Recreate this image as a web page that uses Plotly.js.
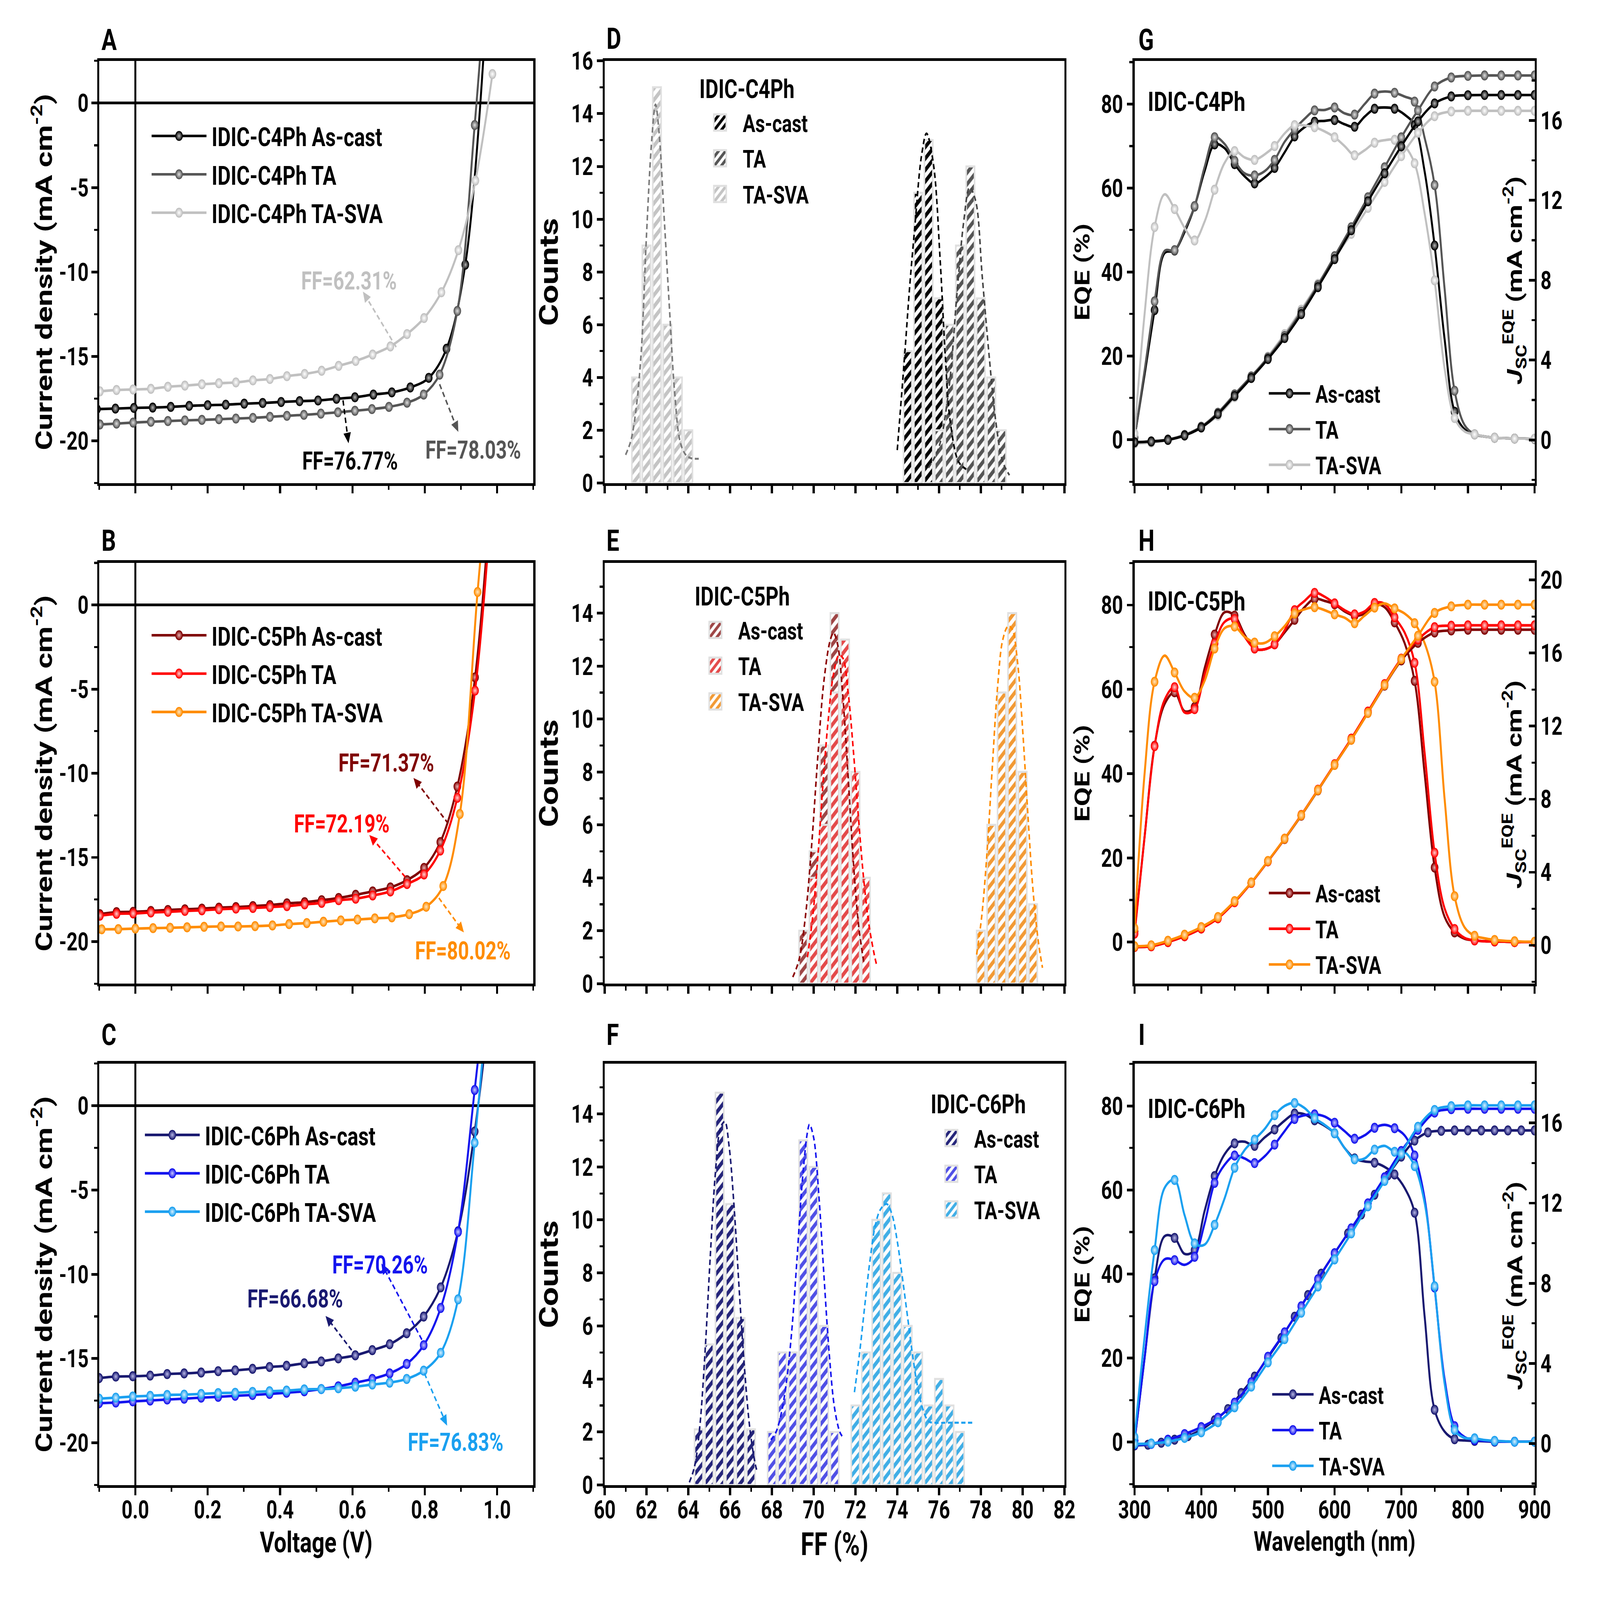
<!DOCTYPE html>
<html><head><meta charset="utf-8">
<script src="https://cdn.plot.ly/plotly-3.0.1.min.js"></script>
<style>
html,body{margin:0;padding:0;background:#fff;overflow:hidden;width:100vw;height:100vh}
#wrap{width:1546px;height:1182.25px;transform-origin:0 0}
</style></head>
<body><div id="wrap"><div id="chart"></div></div>
<script>
// ================= DATA =================
// Panel A (IDIC-C4Ph J-V)
const vA_asCast = [-0.106, -0.055, -0.004, 0.048, 0.098, 0.149, 0.200, 0.250, 0.301, 0.352, 0.403, 0.454, 0.505, 0.556, 0.607, 0.658, 0.709, 0.760, 0.811, 0.860, 0.912, 0.963];
const jA_asCast = [-18.12, -18.09, -18.05, -18.03, -17.99, -17.93, -17.89, -17.86, -17.80, -17.76, -17.70, -17.65, -17.61, -17.51, -17.42, -17.26, -17.13, -16.84, -16.27, -14.55, -9.57, 3.0];
const vA_ta = [-0.098, -0.052, -0.006, 0.043, 0.090, 0.137, 0.184, 0.231, 0.278, 0.325, 0.372, 0.419, 0.466, 0.513, 0.560, 0.607, 0.654, 0.701, 0.751, 0.797, 0.841, 0.890, 0.938, 0.985];
const jA_ta = [-19.03, -18.98, -18.92, -18.87, -18.83, -18.79, -18.76, -18.72, -18.68, -18.64, -18.58, -18.52, -18.46, -18.39, -18.31, -18.22, -18.12, -17.99, -17.74, -17.26, -16.08, -12.31, -1.30, 12.0];
const vA_taSva = [-0.098, -0.052, -0.006, 0.043, 0.090, 0.137, 0.184, 0.231, 0.278, 0.325, 0.372, 0.419, 0.468, 0.515, 0.562, 0.609, 0.656, 0.705, 0.751, 0.798, 0.846, 0.893, 0.940, 0.987];
const jA_taSva = [-17.07, -16.99, -16.96, -16.92, -16.80, -16.73, -16.65, -16.59, -16.54, -16.42, -16.34, -16.17, -16.04, -15.85, -15.56, -15.27, -14.89, -14.41, -13.68, -12.73, -11.20, -8.71, -4.59, 1.72];

// Panel B (IDIC-C5Ph J-V)
const vB = [-0.098, -0.052, -0.006, 0.043, 0.090, 0.137, 0.184, 0.231, 0.278, 0.325, 0.372, 0.419, 0.468, 0.515, 0.562, 0.609, 0.656, 0.705, 0.751, 0.798, 0.843, 0.890, 0.939, 0.987];
const jB_asCast = [-18.37, -18.25, -18.23, -18.18, -18.12, -18.08, -18.04, -17.98, -17.95, -17.89, -17.83, -17.73, -17.66, -17.54, -17.41, -17.22, -17.02, -16.78, -16.35, -15.62, -14.09, -10.79, -4.30, 8.0];
const jB_ta = [-18.46, -18.35, -18.33, -18.27, -18.23, -18.18, -18.14, -18.08, -18.04, -18.00, -17.95, -17.89, -17.79, -17.70, -17.54, -17.45, -17.26, -17.02, -16.58, -16.01, -14.59, -11.46, -5.09, 7.0];
const vB_taSva = [-0.093, -0.047, 0.000, 0.049, 0.096, 0.143, 0.190, 0.237, 0.284, 0.331, 0.379, 0.425, 0.474, 0.520, 0.568, 0.614, 0.662, 0.709, 0.757, 0.804, 0.851, 0.897, 0.946, 0.993];
const jB_taSva = [-19.27, -19.26, -19.23, -19.20, -19.18, -19.15, -19.12, -19.10, -19.10, -19.08, -19.04, -18.96, -18.90, -18.82, -18.74, -18.69, -18.62, -18.56, -18.37, -17.93, -16.70, -12.42, 0.77, 12.0];

// Panel C (IDIC-C6Ph J-V)
const vC = [-0.100, -0.054, -0.007, 0.041, 0.088, 0.135, 0.182, 0.229, 0.276, 0.324, 0.371, 0.418, 0.467, 0.514, 0.561, 0.608, 0.655, 0.703, 0.750, 0.797, 0.844, 0.892, 0.938, 0.985];
const jC_asCast = [-16.16, -16.07, -16.05, -16.01, -15.92, -15.88, -15.83, -15.75, -15.70, -15.61, -15.50, -15.43, -15.28, -15.17, -14.99, -14.81, -14.50, -14.15, -13.50, -12.51, -10.78, -7.45, -1.53, 7.0];
const jC_ta = [-17.65, -17.61, -17.54, -17.49, -17.43, -17.38, -17.32, -17.27, -17.21, -17.16, -17.10, -17.03, -16.94, -16.81, -16.65, -16.43, -16.21, -15.88, -15.32, -14.21, -12.00, -7.49, 0.93, 10.0];
const jC_taSva = [-17.38, -17.32, -17.25, -17.21, -17.16, -17.14, -17.10, -17.05, -17.03, -16.98, -16.94, -16.90, -16.83, -16.81, -16.76, -16.67, -16.54, -16.43, -16.21, -15.72, -14.66, -11.49, -2.20, 9.0];

// current-density tick labels (hyphen minus as in the original)
const jvTickVals = [-20, -15, -10, -5, 0];
const jvTickText = ['-20', '-15', '-10', '-5', '0'];

// FF labels
const ffA = ['FF=76.77%', 'FF=78.03%', 'FF=62.31%'];
const ffB = ['FF=71.37%', 'FF=72.19%', 'FF=80.02%'];
const ffC = ['FF=66.68%', 'FF=70.26%', 'FF=76.83%'];

// Panel D histogram (IDIC-C4Ph)
const ffD_asCast = [74.5, 75, 75.5, 76, 76.5];
const cntD_asCast = [5, 11, 13, 7, 3];
const ffD_ta = [76, 76.5, 77, 77.5, 78, 78.5, 79];
const cntD_ta = [2, 6, 9, 12, 7, 4, 2];
const ffD_taSva = [61.5, 62, 62.5, 63, 63.5, 64];
const cntD_taSva = [4, 9, 15, 6, 4, 2];
const fitD_asCast_x = [74.0, 74.35, 74.6, 74.84, 75.16, 75.4, 75.73, 76.05, 76.3, 76.54, 76.94, 77.35];
const fitD_asCast_y = [1.25, 4.8, 7.5, 9.7, 12.4, 13.25, 12.1, 8.5, 4.8, 2.3, 0.8, 0.5];
const fitD_ta_x = [75.49, 75.97, 76.46, 76.86, 77.18, 77.46, 77.75, 78.07, 78.4, 78.72, 79.05, 79.37];
const fitD_ta_y = [0.58, 1.3, 3.5, 7.2, 9.9, 11.2, 10.7, 7.8, 4.8, 2.3, 0.8, 0.3];
const fitD_taSva_x = [61.0, 61.25, 61.5, 61.75, 62.0, 62.25, 62.43, 62.6, 62.85, 63.1, 63.35, 63.6, 63.85, 64.1, 64.5];
const fitD_taSva_y = [1.07, 1.6, 2.8, 5.0, 9.4, 13.0, 14.35, 13.3, 10.0, 6.6, 3.4, 1.6, 1.1, 0.95, 0.92];

// Panel E histogram (IDIC-C5Ph)
const ffE_asCast = [69.5, 70, 70.5, 71, 71.5, 72];
const cntE_asCast = [2, 5, 9, 14, 8, 3];
const ffE_ta = [70, 70.5, 71, 71.5, 72, 72.5];
const cntE_ta = [4, 6, 11, 13, 8, 4];
const ffE_taSva = [78, 78.5, 79, 79.5, 80, 80.5];
const cntE_taSva = [2, 6, 11, 14, 8, 3];
const fitE_asCast_x = [69.0, 69.3, 69.6, 69.9, 70.2, 70.5, 70.8, 70.95, 71.15, 71.4, 71.65, 71.9, 72.15, 72.4];
const fitE_asCast_y = [0.25, 0.9, 2.5, 5.2, 8.6, 11.5, 13.0, 13.25, 12.8, 10.8, 7.8, 4.6, 2.2, 0.8];
const fitE_ta_x = [69.7, 69.95, 70.2, 70.45, 70.7, 70.95, 71.2, 71.4, 71.65, 71.9, 72.15, 72.4, 72.65, 72.9, 73.0];
const fitE_ta_y = [1.0, 2.5, 4.8, 7.6, 10.0, 11.7, 12.4, 12.3, 11.0, 8.8, 6.2, 3.9, 2.2, 1.1, 0.75];
const fitE_taSva_x = [77.8, 78.05, 78.3, 78.55, 78.8, 79.05, 79.3, 79.5, 79.75, 80.0, 80.25, 80.5, 80.75, 80.95];
const fitE_taSva_y = [1.1, 2.6, 5.0, 8.2, 11.2, 13.0, 13.5, 13.4, 12.2, 9.6, 6.4, 3.5, 1.6, 0.6];

// Panel F histogram (IDIC-C6Ph)
const ffF_asCast = [64.5, 65, 65.5, 66, 66.5, 67];
const cntF_asCast = [2.1, 5.3, 14.8, 10.6, 6.3, 2.1];
const ffF_ta = [68, 68.5, 69, 69.5, 70, 70.5, 71];
const cntF_ta = [2, 5, 5, 13, 12, 6, 2];
const ffF_taSva = [72, 72.5, 73, 73.5, 74, 74.5, 75, 75.5, 76, 76.5, 77];
const cntF_taSva = [3, 5, 10, 11, 8, 6, 5, 3, 4, 3, 2];
const fitF_asCast_x = [64.05, 64.3, 64.55, 64.8, 65.05, 65.3, 65.55, 65.75, 65.95, 66.2, 66.45, 66.7, 66.95, 67.2, 67.3];
const fitF_asCast_y = [0.1, 0.7, 2.2, 5.0, 8.6, 11.8, 13.5, 13.7, 12.8, 10.4, 7.2, 4.3, 2.1, 0.8, 0.5];
const fitF_ta_x = [67.95, 68.2, 68.45, 68.7, 68.95, 69.2, 69.45, 69.7, 69.8, 70.0, 70.25, 70.5, 70.75, 71.0, 71.25, 71.4];
const fitF_ta_y = [1.7, 2.0, 2.7, 3.9, 5.8, 8.5, 11.4, 13.3, 13.6, 13.1, 10.9, 7.8, 4.9, 2.9, 2.0, 1.8];
const fitF_taSva_x = [71.95, 72.2, 72.45, 72.7, 72.95, 73.2, 73.5, 73.75, 74.0, 74.25, 74.5, 74.75, 75.0, 75.25, 75.5, 75.8, 76.5, 77.6];
const fitF_taSva_y = [3.5, 5.0, 6.8, 8.5, 9.8, 10.4, 10.6, 10.2, 9.2, 7.8, 6.3, 4.8, 3.6, 2.8, 2.4, 2.35, 2.35, 2.35];

// EQE wavelengths (nm)
const wlEQE = [300, 315, 330, 345, 360, 375, 390, 405, 420, 435, 450, 465, 480, 495, 510, 525, 540, 555, 570, 585, 600, 615, 630, 645, 660, 675, 690, 705, 720, 735, 750, 765, 780, 795, 810, 825, 840, 855, 870, 885, 900];
const wlJsc25 = [300, 325, 350, 375, 400, 425, 450, 475, 500, 525, 550, 575, 600, 625, 650, 675, 700, 725, 750, 775, 800, 825, 850, 875, 900];
const wlJsc20 = [300, 320, 340, 360, 380, 400, 420, 440, 460, 480, 500, 520, 540, 560, 580, 600, 620, 640, 660, 680, 700, 720, 740, 760, 780, 800, 820, 840, 860, 880, 900];

// Panel G (IDIC-C4Ph EQE)
const eqeG_asCast = [0.5, 15.5, 30.9, 44.5, 45.1, 49.5, 55.6, 64.0, 70.4, 69.5, 65.7, 62.8, 61.1, 62.5, 64.8, 68.5, 72.3, 74.5, 75.8, 76.0, 76.2, 75.2, 74.6, 77.0, 78.9, 79.2, 78.9, 77.5, 75.0, 64.0, 46.3, 24.0, 6.7, 2.5, 1.3, 0.8, 0.5, 0.4, 0.3, 0.3, 0.2];
const eqeG_ta = [0.5, 16.5, 33.0, 45.0, 45.2, 50.0, 55.7, 65.0, 72.1, 70.5, 66.5, 63.5, 63.0, 64.0, 66.7, 71.0, 74.0, 76.5, 78.5, 78.6, 79.2, 77.8, 77.5, 80.0, 82.5, 83.0, 82.7, 81.8, 80.6, 72.0, 60.7, 36.0, 11.7, 3.5, 1.3, 0.8, 0.5, 0.4, 0.3, 0.3, 0.2];
const eqeG_taSva = [1.5, 30.0, 50.7, 58.5, 55.0, 50.5, 47.5, 52.0, 59.6, 66.0, 68.8, 67.3, 66.7, 68.0, 70.0, 73.0, 75.0, 74.9, 74.5, 73.5, 72.1, 70.0, 67.8, 69.0, 70.8, 71.4, 71.5, 70.0, 65.9, 54.0, 38.0, 17.0, 5.2, 2.0, 1.3, 0.8, 0.5, 0.4, 0.3, 0.3, 0.3];
const jscG_asCast = [-0.12, -0.08, 0.0, 0.22, 0.62, 1.30, 2.20, 3.10, 4.05, 5.10, 6.30, 7.65, 9.05, 10.50, 11.95, 13.35, 14.70, 15.95, 16.85, 17.20, 17.26, 17.27, 17.27, 17.27, 17.27];
const jscG_ta = [-0.12, -0.07, 0.02, 0.25, 0.66, 1.36, 2.28, 3.18, 4.12, 5.20, 6.42, 7.75, 9.20, 10.65, 12.15, 13.65, 15.15, 16.50, 17.70, 18.15, 18.23, 18.25, 18.25, 18.25, 18.25];
const jscG_taSva = [-0.18, -0.13, 0.0, 0.23, 0.63, 1.22, 2.14, 3.11, 4.17, 5.30, 6.52, 7.81, 9.11, 10.32, 11.62, 12.92, 14.21, 15.38, 16.21, 16.45, 16.48, 16.48, 16.48, 16.48, 16.48];

// Panel H (IDIC-C5Ph EQE)
const eqeH_asCast = [2.5, 25.0, 46.6, 56.5, 59.3, 54.8, 55.8, 65.0, 73.0, 78.3, 77.5, 73.0, 69.7, 69.5, 70.7, 73.5, 76.5, 79.5, 81.5, 81.0, 80.2, 78.5, 77.5, 78.0, 80.2, 79.5, 75.9, 71.0, 62.0, 40.0, 17.7, 6.0, 2.3, 0.8, 0.4, 0.2, 0.15, 0.1, 0.0, 0.0, 0.0];
const eqeH_ta = [2.0, 25.0, 46.5, 57.5, 60.5, 54.5, 55.3, 63.5, 70.9, 76.0, 76.7, 72.5, 69.7, 69.5, 70.7, 74.0, 78.8, 81.0, 82.9, 82.0, 80.4, 78.8, 77.8, 78.5, 80.5, 80.3, 77.1, 73.5, 66.3, 45.0, 21.2, 8.0, 3.1, 1.0, 0.4, 0.2, 0.15, 0.1, 0.0, 0.0, 0.0];
const eqeH_taSva = [3.3, 40.0, 61.8, 68.0, 64.0, 59.5, 58.0, 62.0, 69.7, 74.5, 74.9, 72.5, 71.1, 71.0, 72.6, 75.0, 78.0, 79.0, 79.5, 78.8, 77.8, 77.0, 75.7, 77.5, 79.4, 80.4, 79.2, 78.0, 75.7, 71.0, 61.8, 34.0, 10.9, 3.5, 1.5, 0.9, 0.5, 0.3, 0.2, 0.1, 0.1];
const jscH_asCast = [-0.09, -0.05, 0.18, 0.50, 0.92, 1.50, 2.38, 3.42, 4.60, 5.82, 7.10, 8.48, 9.88, 11.26, 12.73, 14.22, 15.60, 16.56, 17.13, 17.24, 17.28, 17.28, 17.28, 17.28, 17.28];
const jscH_ta = [-0.09, -0.05, 0.18, 0.50, 0.92, 1.48, 2.36, 3.42, 4.60, 5.84, 7.14, 8.52, 9.92, 11.32, 12.80, 14.30, 15.70, 16.74, 17.42, 17.50, 17.52, 17.52, 17.52, 17.52, 17.52];
const jscH_taSva = [-0.05, 0.0, 0.25, 0.58, 1.0, 1.55, 2.42, 3.44, 4.62, 5.84, 7.12, 8.50, 9.88, 11.26, 12.73, 14.25, 15.67, 16.95, 18.20, 18.56, 18.65, 18.65, 18.65, 18.65, 18.65];

// Panel I (IDIC-C6Ph EQE)
const eqeI_asCast = [0.3, 20.0, 39.0, 49.0, 48.6, 44.8, 45.7, 55.0, 63.3, 68.5, 71.1, 71.5, 70.5, 72.5, 74.4, 76.5, 78.2, 78.0, 76.6, 75.3, 73.5, 70.0, 67.5, 66.8, 66.5, 65.5, 63.7, 60.5, 54.6, 30.0, 7.7, 2.5, 0.7, 0.4, 0.3, 0.2, 0.1, 0.1, 0.1, 0.1, 0.1];
const eqeI_ta = [0.3, 20.0, 38.3, 43.5, 43.3, 42.2, 44.1, 52.0, 61.7, 66.0, 68.2, 67.5, 66.4, 68.0, 70.8, 74.0, 76.9, 77.8, 78.0, 77.5, 76.0, 74.0, 72.2, 73.0, 74.8, 75.5, 74.7, 73.0, 68.2, 58.0, 36.8, 15.0, 3.8, 1.2, 0.5, 0.3, 0.2, 0.1, 0.1, 0.1, 0.1];
const eqeI_taSva = [1.2, 25.0, 45.7, 60.5, 62.4, 54.0, 47.3, 47.0, 51.7, 58.0, 65.3, 69.5, 72.0, 74.5, 77.8, 80.0, 80.7, 79.5, 77.1, 75.5, 73.5, 70.0, 67.3, 67.5, 69.6, 70.5, 69.1, 69.0, 65.7, 57.0, 37.1, 14.0, 2.9, 1.0, 0.9, 0.5, 0.3, 0.2, 0.1, 0.1, 0.1];
const jscI_asCast = [-0.10, -0.06, 0.04, 0.19, 0.37, 0.69, 1.16, 1.72, 2.52, 3.34, 4.29, 5.27, 6.33, 7.41, 8.48, 9.50, 10.49, 11.43, 12.42, 13.39, 14.32, 15.12, 15.53, 15.61, 15.63, 15.63, 15.63, 15.63, 15.63, 15.63, 15.63];
const jscI_ta = [-0.06, -0.02, 0.19, 0.47, 0.82, 1.29, 2.04, 3.06, 4.33, 5.55, 6.85, 8.20, 9.50, 10.74, 11.99, 13.29, 14.60, 15.66, 16.52, 16.69, 16.71, 16.71, 16.71, 16.71, 16.71];
const jscI_taSva = [-0.02, 0.0, 0.09, 0.28, 0.56, 1.06, 1.81, 2.84, 4.05, 5.21, 6.53, 7.84, 9.19, 10.49, 11.84, 13.11, 14.47, 15.81, 16.65, 16.84, 16.88, 16.88, 16.88, 16.88, 16.88];

const seriesJV = ['As-cast', 'TA', 'TA-SVA'];
const materials = ['IDIC-C4Ph', 'IDIC-C5Ph', 'IDIC-C6Ph'];

// ================= STYLE / LAYOUT =================
const W = 1546, H = 1182.25;
const FONT = 'Roboto, "Liberation Sans", Arial, sans-serif';
const cols = [[95.8, 515.3], [584.3, 1028.5], [1096.3, 1482.8]];
const rows = [[45, 357], [416, 727], [786, 1097.5]];
const panelPos = {1:[0,0], 2:[0,1], 3:[0,2], 4:[1,0], 5:[1,1], 6:[1,2], 7:[2,0], 8:[2,1], 9:[2,2]};
const sfx = p => (p === 1 ? '' : String(p));
const xdom = p => { const c = cols[panelPos[p][0]]; return [c[0] / W, c[1] / W]; };
const ydom = p => { const r = rows[panelPos[p][1]]; return [1 - r[1] / H, 1 - r[0] / H]; };
const fnt = (size, color) => ({family: FONT, size: size, color: color || '#000', weight: 'bold'});

// stretch the figure over the whole browser window
(function () {
  const sx = window.innerWidth / W, sy = window.innerHeight / H;
  document.getElementById('wrap').style.transform = 'scale(' + sx + ',' + sy + ')';
})();

const colJV = {
  A: ['#000000', '#555555', '#c0c0c0'], Ag: ['#b8b8b8', '#e0e0e0', '#ffffff'],
  B: ['#7f0000', '#ff0000', '#ff8c00'], Bg: ['#e8b0b0', '#ffd0d0', '#ffe6c0'],
  C: ['#191970', '#1414ee', '#1aa0f0'], Cg: ['#b8b8e8', '#c8c8ff', '#d8f0ff']
};
const patD = ['#000000', '#555555', '#c4c4c4'], fitDc = ['#000000', '#444444', '#7a7a7a'];
const patE = ['#9e4646', '#e44a4a', '#f29a35'], fitEc = ['#8b0000', '#ff0000', '#ff8c00'];
const patF = ['#25257a', '#5050e6', '#40aee6'], fitFc = ['#191970', '#1414ee', '#1aa0f0'];

const traces = [], ann = [], shp = [];
const legName = p => (p === 1 ? 'legend' : 'legend' + p);
const MS = 6.8;

function addJV(p, v, j, name, color, grad) {
  traces.push({type: 'scatter', mode: 'lines+markers', x: v, y: j, name: name,
    xaxis: 'x' + sfx(p), yaxis: 'y' + sfx(p), legend: legName(p), hoverinfo: 'skip',
    line: {color: color, width: 1.9, shape: 'spline', smoothing: 1},
    marker: {size: MS, color: color, line: {color: color, width: 0.6}, gradient: {type: 'radial', color: grad}}});
}
function addEQE(p, wl, eqe, name, color, grad) {
  const clear = 'rgba(0,0,0,0)';
  const on = wl.map(w => (w - 300) % 30 === 0);
  traces.push({type: 'scatter', mode: 'lines+markers', x: wl, y: eqe, name: name,
    xaxis: 'x' + sfx(p), yaxis: 'y' + sfx(p), legend: legName(p), hoverinfo: 'skip',
    line: {color: color, width: 1.9, shape: 'spline', smoothing: 1},
    marker: {size: MS, color: on.map(s => s ? color : clear),
      line: {color: on.map(s => s ? color : clear), width: 0.6},
      gradient: {type: on.map(s => s ? 'radial' : 'none'), color: on.map(s => s ? grad : clear)}}});
}
function addJsc(p, yid, wl, jsc, name, color, grad) {
  traces.push({type: 'scatter', mode: 'lines+markers', x: wl, y: jsc, name: name + ' Jsc',
    xaxis: 'x' + sfx(p), yaxis: 'y' + yid, showlegend: false, hoverinfo: 'skip',
    line: {color: color, width: 1.9, shape: 'spline', smoothing: 1},
    marker: {size: MS, color: color, line: {color: color, width: 0.6}, gradient: {type: 'radial', color: grad}}});
}
function addBars(p, x, y, name, fg) {
  traces.push({type: 'bar', x: x, y: y, name: name, width: 0.4,
    xaxis: 'x' + sfx(p), yaxis: 'y' + sfx(p), legend: legName(p), hoverinfo: 'skip',
    marker: {color: '#ffffff', line: {color: '#e0e0e0', width: 1.5},
      pattern: {shape: '/', fgcolor: fg, bgcolor: '#ffffff', size: 6, solidity: 0.5}}});
}
function addFit(p, x, y, color) {
  traces.push({type: 'scatter', mode: 'lines', x: x, y: y, showlegend: false, hoverinfo: 'skip',
    xaxis: 'x' + sfx(p), yaxis: 'y' + sfx(p),
    line: {color: color, width: 1.5, dash: '4px,2.5px', shape: 'spline'}});
}

// ---- J-V panels
addJV(1, vA_asCast, jA_asCast, materials[0] + ' ' + seriesJV[0], colJV.A[0], colJV.Ag[0]);
addJV(1, vA_ta, jA_ta, materials[0] + ' ' + seriesJV[1], colJV.A[1], colJV.Ag[1]);
addJV(1, vA_taSva, jA_taSva, materials[0] + ' ' + seriesJV[2], colJV.A[2], colJV.Ag[2]);
addJV(2, vB, jB_asCast, materials[1] + ' ' + seriesJV[0], colJV.B[0], colJV.Bg[0]);
addJV(2, vB, jB_ta, materials[1] + ' ' + seriesJV[1], colJV.B[1], colJV.Bg[1]);
addJV(2, vB_taSva, jB_taSva, materials[1] + ' ' + seriesJV[2], colJV.B[2], colJV.Bg[2]);
addJV(3, vC, jC_asCast, materials[2] + ' ' + seriesJV[0], colJV.C[0], colJV.Cg[0]);
addJV(3, vC, jC_ta, materials[2] + ' ' + seriesJV[1], colJV.C[1], colJV.Cg[1]);
addJV(3, vC, jC_taSva, materials[2] + ' ' + seriesJV[2], colJV.C[2], colJV.Cg[2]);

// ---- Histogram panels
addBars(4, ffD_asCast, cntD_asCast, seriesJV[0], patD[0]);
addBars(4, ffD_ta, cntD_ta, seriesJV[1], patD[1]);
addBars(4, ffD_taSva, cntD_taSva, seriesJV[2], patD[2]);
addFit(4, fitD_asCast_x, fitD_asCast_y, fitDc[0]);
addFit(4, fitD_ta_x, fitD_ta_y, fitDc[1]);
addFit(4, fitD_taSva_x, fitD_taSva_y, fitDc[2]);
addBars(5, ffE_asCast, cntE_asCast, seriesJV[0], patE[0]);
addBars(5, ffE_ta, cntE_ta, seriesJV[1], patE[1]);
addBars(5, ffE_taSva, cntE_taSva, seriesJV[2], patE[2]);
addFit(5, fitE_asCast_x, fitE_asCast_y, fitEc[0]);
addFit(5, fitE_ta_x, fitE_ta_y, fitEc[1]);
addFit(5, fitE_taSva_x, fitE_taSva_y, fitEc[2]);
addBars(6, ffF_asCast, cntF_asCast, seriesJV[0], patF[0]);
addBars(6, ffF_ta, cntF_ta, seriesJV[1], patF[1]);
addBars(6, ffF_taSva, cntF_taSva, seriesJV[2], patF[2]);
addFit(6, fitF_asCast_x, fitF_asCast_y, fitFc[0]);
addFit(6, fitF_ta_x, fitF_ta_y, fitFc[1]);
addFit(6, fitF_taSva_x, fitF_taSva_y, fitFc[2]);

// ---- EQE panels
addEQE(7, wlEQE, eqeG_asCast, seriesJV[0], colJV.A[0], colJV.Ag[0]);
addEQE(7, wlEQE, eqeG_ta, seriesJV[1], colJV.A[1], colJV.Ag[1]);
addEQE(7, wlEQE, eqeG_taSva, seriesJV[2], colJV.A[2], colJV.Ag[2]);
addJsc(7, 10, wlJsc25, jscG_taSva, seriesJV[2], colJV.A[2], colJV.Ag[2]);
addJsc(7, 10, wlJsc25, jscG_ta, seriesJV[1], colJV.A[1], colJV.Ag[1]);
addJsc(7, 10, wlJsc25, jscG_asCast, seriesJV[0], colJV.A[0], colJV.Ag[0]);
addEQE(8, wlEQE, eqeH_asCast, seriesJV[0], colJV.B[0], colJV.Bg[0]);
addEQE(8, wlEQE, eqeH_ta, seriesJV[1], colJV.B[1], colJV.Bg[1]);
addEQE(8, wlEQE, eqeH_taSva, seriesJV[2], colJV.B[2], colJV.Bg[2]);
addJsc(8, 11, wlJsc25, jscH_asCast, seriesJV[0], colJV.B[0], colJV.Bg[0]);
addJsc(8, 11, wlJsc25, jscH_ta, seriesJV[1], colJV.B[1], colJV.Bg[1]);
addJsc(8, 11, wlJsc25, jscH_taSva, seriesJV[2], colJV.B[2], colJV.Bg[2]);
addEQE(9, wlEQE, eqeI_asCast, seriesJV[0], colJV.C[0], colJV.Cg[0]);
addEQE(9, wlEQE, eqeI_ta, seriesJV[1], colJV.C[1], colJV.Cg[1]);
addEQE(9, wlEQE, eqeI_taSva, seriesJV[2], colJV.C[2], colJV.Cg[2]);
addJsc(9, 12, wlJsc20, jscI_asCast, seriesJV[0], colJV.C[0], colJV.Cg[0]);
addJsc(9, 12, wlJsc25, jscI_ta, seriesJV[1], colJV.C[1], colJV.Cg[1]);
addJsc(9, 12, wlJsc25, jscI_taSva, seriesJV[2], colJV.C[2], colJV.Cg[2]);

// ---- Axes
const minorOut = {ticks: 'outside', ticklen: 3, tickwidth: 1.5, tickcolor: '#000', showgrid: false};
const minorIn = {ticks: 'inside', ticklen: 3, tickwidth: 1.5, tickcolor: '#000', showgrid: false};
function mkAxis(extra) {
  return Object.assign({showline: true, linewidth: 2, linecolor: '#000', mirror: true,
    ticks: 'outside', ticklen: 5.5, tickwidth: 2, tickcolor: '#000', showgrid: false,
    zeroline: false, tickfont: fnt(18.5), layer: 'above traces', fixedrange: true}, extra);
}
const L = {};
const jvX = [-0.1, 1.1], jvY = [-22.5, 2.5];
[1, 2, 3].forEach(p => {
  const xa = mkAxis({domain: xdom(p), anchor: 'y' + sfx(p), range: jvX, dtick: 0.2, tick0: 0,
    tickformat: '.1f', minor: Object.assign({dtick: 0.1}, minorOut), zeroline: true,
    zerolinecolor: '#000', zerolinewidth: 2, showticklabels: p === 3, ticklabelstandoff: -5});
  if (p === 3) xa.title = {text: 'Voltage (V)', font: fnt(21.5), standoff: 4};
  L['xaxis' + sfx(p)] = xa;
  L['yaxis' + sfx(p)] = mkAxis({domain: ydom(p), anchor: 'x' + sfx(p), range: jvY,
    tickmode: 'array', tickvals: jvTickVals, ticktext: jvTickText, ticklabelstandoff: -1,
    minor: Object.assign({tickmode: 'linear', tick0: 0, dtick: 2.5}, minorOut), zeroline: true, zerolinecolor: '#000', zerolinewidth: 2,
    title: {text: 'Current density (mA cm<sup>-2</sup>)', font: fnt(22.5), standoff: 0}});
});
[4, 5, 6].forEach(p => {
  const xa = mkAxis({domain: xdom(p), anchor: 'y' + sfx(p), range: [60, 82], dtick: 2, tick0: 60,
    minor: Object.assign({dtick: 1}, minorOut), showticklabels: p === 6, ticklabelstandoff: -5});
  if (p === 6) xa.title = {text: 'FF (%)', font: fnt(23.5), standoff: 4};
  L['xaxis' + p] = xa;
  L['yaxis' + p] = mkAxis({domain: ydom(p), anchor: 'x' + p, range: p === 4 ? [0, 16] : [0, 15.9],
    dtick: 2, tick0: 0, minor: Object.assign({dtick: 1}, minorOut),
    title: {text: 'Counts', font: fnt(25), standoff: 5}});
});
const eqeL = {7: [-10.3, 90.3], 8: [-9.87, 90.02], 9: [-10.2, 90.1]};
const eqeR = {7: [-2.16, 18.98], 8: [-2.1, 20.94], 9: [-2.07, 18.97]};
[7, 8, 9].forEach(p => {
  const xa = mkAxis({domain: xdom(p), anchor: 'y' + p, range: [300, 900], dtick: 100, tick0: 300,
    minor: Object.assign({dtick: 50}, minorOut), showticklabels: p === 9, ticklabelstandoff: -5});
  if (p === 9) xa.title = {text: 'Wavelength (nm)', font: fnt(20.5), standoff: 4};
  L['xaxis' + p] = xa;
  L['yaxis' + p] = mkAxis({domain: ydom(p), anchor: 'x' + p, range: eqeL[p], dtick: 20, tick0: 0,
    minor: Object.assign({dtick: 10}, minorOut), title: {text: 'EQE (%)', font: fnt(20.5), standoff: 5}});
  L['yaxis' + (p + 3)] = mkAxis({overlaying: 'y' + p, anchor: 'x' + p, side: 'right', range: eqeR[p],
    dtick: 4, tick0: 0, ticks: 'inside', mirror: false, minor: Object.assign({dtick: 2}, minorIn)});
});

// ---- Legends (x given as start of the text; symbol width set per legend)
function legendDef(textStart, topu, size, symW, title) {
  const xu = textStart - symW - 10;
  const d = {x: xu / W, y: 1 - topu / H, xanchor: 'left', yanchor: 'top', bgcolor: 'rgba(0,0,0,0)',
    borderwidth: 0, font: fnt(size), tracegroupgap: 0, traceorder: 'normal', itemwidth: symW};
  if (title) d.title = {text: title, font: fnt(19.5), side: 'top'};
  return d;
}
L.legend = legendDef(204.5, 81.3, 19.5, 53);
L.legend2 = legendDef(204.5, 450.3, 19.5, 53);
L.legend3 = legendDef(198, 819.6, 19.5, 53);
L.legend4 = legendDef(717.75, 47, 18, 34, materials[0]);
L.legend5 = legendDef(713.25, 422, 18, 34, materials[1]);
L.legend6 = legendDef(941.25, 797.5, 18, 34, materials[2]);
L.legend7 = legendDef(1271, 272.5, 18, 40);
L.legend8 = legendDef(1271, 641.8, 18, 40);
L.legend9 = legendDef(1274.25, 1012.3, 18, 40);

// ---- Annotations: panel letters
const letters = [['A', 96, 30], ['B', 96, 399.5], ['C', 96, 765], ['D', 584, 29], ['E', 584, 399.5],
  ['F', 584, 765], ['G', 1097.5, 30], ['H', 1097.5, 399.5], ['I', 1097.5, 765]];
letters.forEach(l => ann.push({xref: 'paper', yref: 'paper', x: l[1] / W, y: 1 - l[2] / H,
  xanchor: 'left', yanchor: 'middle', text: l[0], showarrow: false, font: fnt(22)}));
// material labels inside EQE panels
[[materials[0], 74.75], [materials[1], 444.5], [materials[2], 819]].forEach(m =>
  ann.push({xref: 'paper', yref: 'paper', x: 1106.5 / W, y: 1 - m[1] / H, xanchor: 'left', yanchor: 'middle',
    text: m[0], showarrow: false, font: fnt(20)}));
// right-axis titles (drawn inside frame as in the original)
[207, 579.5, 950].forEach(yc => ann.push({xref: 'paper', yref: 'paper', x: 1464 / W, y: 1 - yc / H,
  xanchor: 'center', yanchor: 'middle', textangle: -90, showarrow: false, font: fnt(20.5),
  text: '<i>J</i><sub>SC</sub><sup>EQE</sup> (mA cm<sup>-2</sup>)'}));

// FF labels with dashed arrows (arrowheads drawn as filled triangle shapes)
function ffLabel(p, text, color, pos, tail, head) {
  const c = cols[panelPos[p][0]], r = rows[panelPos[p][1]];
  const pw = c[1] - c[0], ph = r[1] - r[0];
  const xr = L['xaxis' + sfx(p)].range, yr = L['yaxis' + sfx(p)].range;
  const xref = 'x' + sfx(p), yref = 'y' + sfx(p);
  ann.push({xref: xref, yref: yref, x: pos[0], y: pos[1], text: text, showarrow: false,
    xanchor: 'center', yanchor: 'middle', font: fnt(18.5, color)});
  const kx = pw / (xr[1] - xr[0]), ky = ph / (yr[1] - yr[0]);
  const dx = (head[0] - tail[0]) * kx, dy = -(head[1] - tail[1]) * ky;
  const len = Math.hypot(dx, dy), ux = dx / len, uy = dy / len;
  const hl = 7, hw = 3.2;
  const bx = -ux * hl, by = -uy * hl;
  const toD = (px, py) => [head[0] + px / kx, head[1] - py / ky];
  const b1 = toD(bx - uy * hw, by + ux * hw), b2 = toD(bx + uy * hw, by - ux * hw);
  const bm = toD(bx, by);
  shp.push({type: 'line', xref: xref, yref: yref, x0: tail[0], y0: tail[1], x1: bm[0], y1: bm[1],
    line: {color: color, width: 1.4, dash: '4px,2.5px'}});
  shp.push({type: 'path', xref: xref, yref: yref, fillcolor: color, line: {color: color, width: 0.5},
    path: 'M' + head[0] + ',' + head[1] + ' L' + b1[0] + ',' + b1[1] + ' L' + b2[0] + ',' + b2[1] + ' Z'});
}
ffLabel(1, ffA[2], colJV.A[2], [0.589, -10.53], [0.721, -14.45], [0.630, -11.20]);
ffLabel(1, ffA[0], colJV.A[0], [0.594, -21.24], [0.574, -17.6], [0.589, -20.1]);
ffLabel(1, ffA[1], colJV.A[1], [0.933, -20.57], [0.841, -16.65], [0.892, -19.43]);
ffLabel(2, ffB[0], colJV.B[0], [0.694, -9.44], [0.865, -12.99], [0.770, -10.31]);
ffLabel(2, ffB[1], colJV.B[1], [0.571, -12.99], [0.746, -16.16], [0.648, -13.70]);
ffLabel(2, ffB[2], colJV.B[2], [0.905, -20.61], [0.839, -17.41], [0.907, -19.42]);
ffLabel(3, ffC[0], colJV.C[0], [0.441, -11.49], [0.598, -14.50], [0.527, -12.51]);
ffLabel(3, ffC[1], colJV.C[1], [0.676, -9.45], [0.792, -13.88], [0.681, -9.40]);
ffLabel(3, ffC[2], colJV.C[2], [0.884, -19.98], [0.799, -15.88], [0.861, -18.94]);

const layout = Object.assign({
  width: W, height: H, margin: {l: 0, r: 0, t: 0, b: 0, pad: 0},
  paper_bgcolor: '#ffffff', plot_bgcolor: 'rgba(0,0,0,0)', font: fnt(18.5),
  showlegend: true, barmode: 'overlay', hovermode: false, dragmode: false,
  annotations: ann, shapes: shp
}, L);

Plotly.newPlot('chart', traces, layout, {staticPlot: true, displayModeBar: false});
</script>
</body></html>
